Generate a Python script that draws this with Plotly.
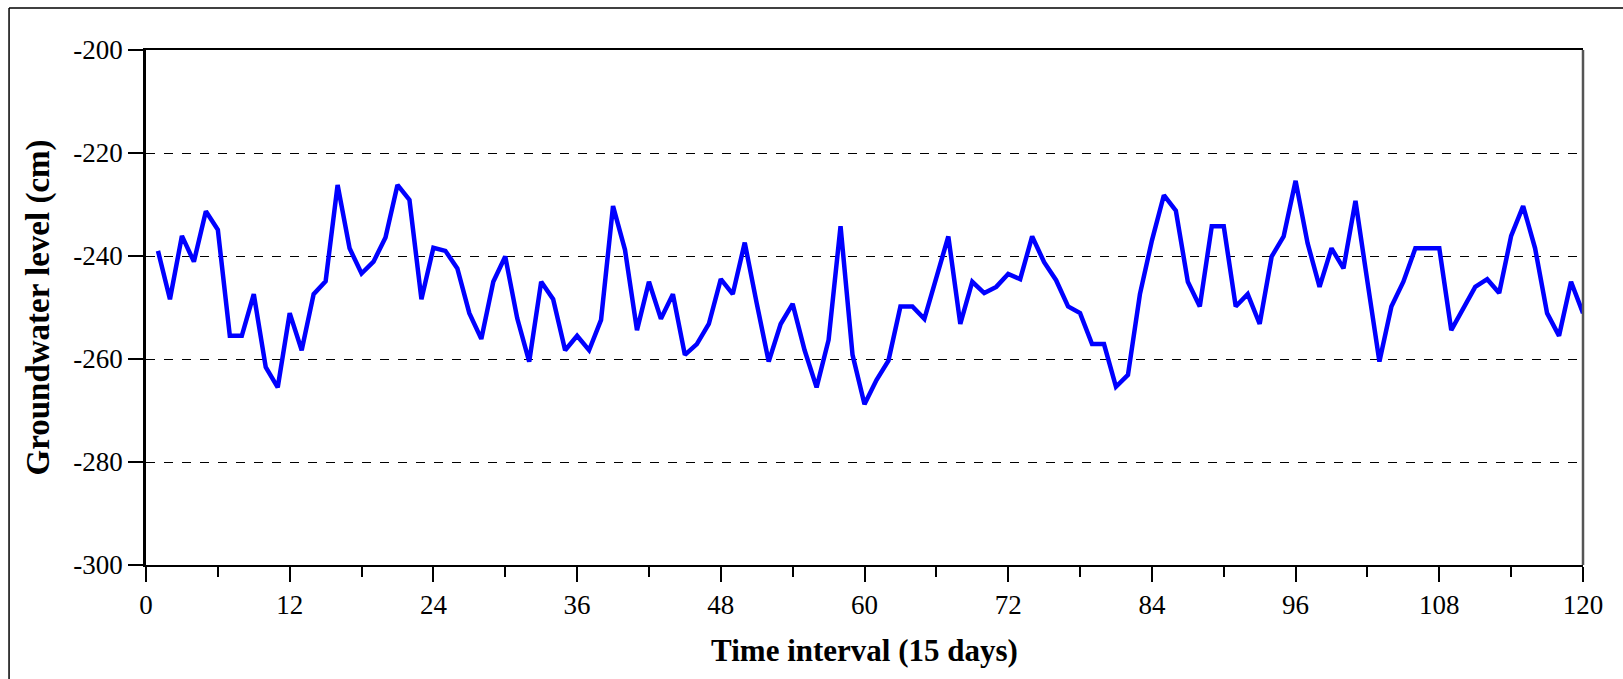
import plotly.graph_objects as go

# Time interval index (15-day steps)
intervals = list(range(1, 121))

# Groundwater level (cm)
levels = [
    -239.0, -248.4, -236.1, -241.1, -231.3, -234.9, -255.5, -255.5, -247.4, -261.6,
    -265.5, -251.1, -258.3, -247.4, -244.9, -226.2, -238.5, -243.4, -241.1, -236.4,
    -226.2, -229.1, -248.4, -238.4, -239.0, -242.4, -251.1, -256.1, -245.0, -240.1,
    -252.1, -260.5, -245.0, -248.4, -258.3, -255.5, -258.3, -252.4, -230.3, -238.8,
    -254.4, -245.0, -252.2, -247.4, -259.2, -257.1, -253.2, -244.5, -247.4, -237.4,
    -249.2, -260.5, -253.2, -249.3, -258.3, -265.5, -256.3, -234.2, -259.2, -268.8,
    -264.1, -260.3, -249.8, -249.8, -252.2, -244.0, -236.2, -253.2, -245.0, -247.2,
    -246.0, -243.5, -244.5, -236.2, -241.2, -244.7, -249.8, -251.1, -257.1, -257.1,
    -265.4, -263.1, -247.4, -237.0, -228.2, -231.2, -245.0, -249.8, -234.2, -234.2,
    -249.8, -247.4, -253.2, -240.1, -236.2, -225.4, -237.5, -246.0, -238.5, -242.4,
    -229.3, -245.0, -260.5, -249.8, -245.0, -238.5, -238.5, -238.5, -254.4, -250.2,
    -246.0, -244.5, -247.2, -236.1, -230.3, -238.5, -251.1, -255.5, -245.0, -251.1,
]

x_ticks = [0, 12, 24, 36, 48, 60, 72, 84, 96, 108, 120]
y_ticks = [-300, -280, -260, -240, -220, -200]
y_labels = ["-300", "-280", "-260", "-240", "-220", "-200"]

serif = "Liberation Serif, Times New Roman, serif"

fig = go.Figure()
fig.add_trace(go.Scatter(
    x=intervals,
    y=levels,
    mode="lines",
    line=dict(color="#0000FF", width=4.5),
    showlegend=False,
))

# outer frame (only top and left edges fall inside the picture)
fig.add_shape(type="line", xref="paper", yref="paper",
              x0=-0.0953, x1=1.03, y0=1.0816, y1=1.0816,
              line=dict(color="black", width=1.5))
fig.add_shape(type="line", xref="paper", yref="paper",
              x0=-0.0953, x1=-0.0953, y0=1.0816, y1=-0.23,
              line=dict(color="black", width=1.5))
# grey right edge of the plot box
fig.add_shape(type="line", xref="paper", yref="paper",
              x0=1, x1=1, y0=0, y1=1,
              line=dict(color="#555555", width=2.5))

fig.update_layout(
    width=1623,
    height=679,
    margin=dict(l=146, r=40, t=50, b=114),
    plot_bgcolor="white",
    paper_bgcolor="white",
    font=dict(family=serif, color="black", size=27),
    xaxis=dict(
        range=[0, 120],
        tickvals=x_ticks,
        ticks="outside",
        ticklen=15,
        tickwidth=1.5,
        tickcolor="black",
        minor=dict(dtick=6, tick0=0, ticks="outside", ticklen=10,
                   tickwidth=1.5, tickcolor="black", showgrid=False),
        showline=True,
        linecolor="black",
        linewidth=1.5,
        mirror=True,
        showgrid=False,
        zeroline=False,
        tickfont=dict(family=serif, size=27),
        title=dict(text="<b>Time interval (15 days)</b>",
                   font=dict(family=serif, size=31), standoff=20),
    ),
    yaxis=dict(
        range=[-300, -200],
        tickvals=y_ticks,
        ticktext=y_labels,
        ticks="outside",
        ticklen=15,
        tickwidth=1.5,
        tickcolor="black",
        showline=True,
        linecolor="black",
        linewidth=2.5,
        showgrid=True,
        gridcolor="black",
        gridwidth=1,
        griddash="dash",
        zeroline=False,
        tickfont=dict(family=serif, size=27),
        title=dict(text="<b>Groundwater level (cm)</b>",
                   font=dict(family=serif, size=33), standoff=14),
    ),
)

fig.write_html(
    "out.html",
    config={"displayModeBar": False},
    post_script="document.body.style.margin='0';",
)
